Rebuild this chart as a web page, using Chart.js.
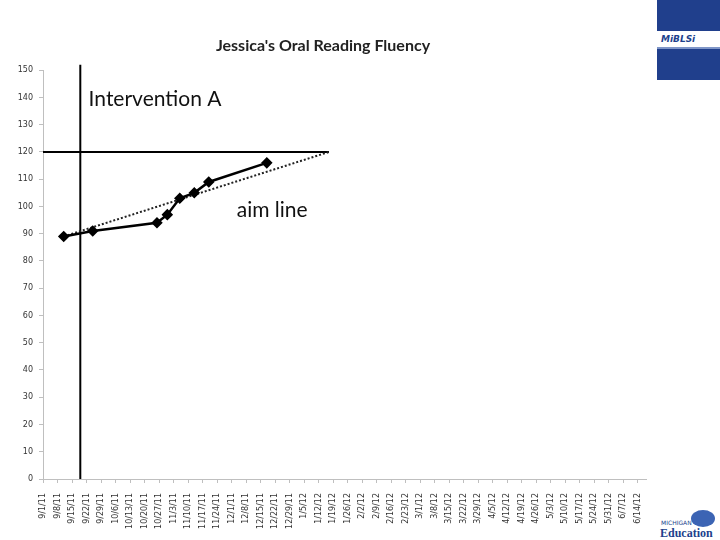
<!DOCTYPE html>
<html>
<head>
<meta charset="utf-8">
<script src="https://cdn.jsdelivr.net/npm/chart.js@4"></script>
<style>
  body { margin: 0; background: #fff; }
  #wrap { position: relative; width: 720px; height: 540px; overflow: hidden; }
  #chartBox { position: absolute; left: 0; top: 0; width: 660px; height: 540px; }
  .logo-top { position: absolute; left: 657px; top: 0; width: 63px; height: 80px; background: #203f8c; }
  .logo-band { position: absolute; left: 657px; top: 31px; width: 63px; height: 16px; background: #fff;
    font: italic bold 9px "DejaVu Sans"; color: #203f8c; line-height: 16px; padding-left: 4px; box-sizing: border-box; }
  .logo-edge { position: absolute; left: 657px; top: 47px; width: 63px; height: 2px; background: #7f96c8; }
  .mde { position: absolute; left: 660px; top: 510px; width: 60px; height: 30px; }
  .mde .mi { position: absolute; left: 1px; top: 9px; font: 6px "DejaVu Sans"; color: #203f8c; }
  .mde .ed { position: absolute; left: 0; top: 16px; font: bold 12px "Liberation Serif"; color: #203f8c; }
  .mde .seal { position: absolute; left: 31px; top: 0; width: 24px; height: 17px; border-radius: 50%; background: #3c64b4; }
</style>
</head>
<body>
<div id="wrap">
  <div id="chartBox"><canvas id="myChart" width="660" height="540"></canvas></div>
  <div class="logo-top"></div>
  <div class="logo-band">MiBLSi</div>
  <div class="logo-edge"></div>
  <div class="mde"><div class="seal"></div><div class="mi">MICHIGAN</div><div class="ed">Education</div></div>
</div>
<script>
// weekly axis labels, one every 7 days from 9/1/11
const dateLabels = ['9/1/11', '9/8/11', '9/15/11', '9/22/11', '9/29/11', '10/6/11', '10/13/11', '10/20/11',
  '10/27/11', '11/3/11', '11/10/11', '11/17/11', '11/24/11', '12/1/11', '12/8/11', '12/15/11', '12/22/11',
  '12/29/11', '1/5/12', '1/12/12', '1/19/12', '1/26/12', '2/2/12', '2/9/12', '2/16/12', '2/23/12', '3/1/12',
  '3/8/12', '3/15/12', '3/22/12', '3/29/12', '4/5/12', '4/12/12', '4/19/12', '4/26/12', '5/3/12', '5/10/12',
  '5/17/12', '5/24/12', '5/31/12', '6/7/12', '6/14/12'];

// days after 9/1/11 and words correct per minute
const pointDays = [10, 24, 55, 60, 66, 73, 80, 108];
const scores = [89, 91, 94, 97, 103, 105, 109, 116];

const aimDays = [10, 138];
const aimScores = [89, 120];

const goalDays = [0, 138];
const goalScores = [120, 120];

const interventionDays = [18, 18];
const interventionScores = [0, 152];

const axisMaxDay = 291;

function toPoints(xs, ys) {
  return xs.map((x, i) => ({ x: x, y: ys[i] }));
}

// text notes placed in data units
const notes = [
  { text: 'Intervention A', x: 22, y: 139.5 },
  { text: 'aim line', x: 93.5, y: 98.5 }
];

const notePlugin = {
  id: 'notes',
  afterDatasetsDraw(chart) {
    const c = chart.ctx;
    c.save();
    c.font = '21px Lato';
    c.fillStyle = '#111';
    c.textBaseline = 'middle';
    notes.forEach(n => {
      c.fillText(n.text, chart.scales.x.getPixelForValue(n.x), chart.scales.y.getPixelForValue(n.y));
    });
    c.restore();
  }
};

const ctx = document.getElementById('myChart').getContext('2d');
new Chart(ctx, {
  type: 'line',
  data: {
    datasets: [
      {
        data: toPoints(pointDays, scores),
        borderColor: '#000',
        backgroundColor: '#000',
        borderWidth: 2.5,
        pointStyle: 'rectRot',
        pointRadius: 4,
        tension: 0
      },
      {
        data: toPoints(aimDays, aimScores),
        borderColor: '#222',
        borderWidth: 2,
        borderDash: [2, 2],
        pointRadius: 0
      },
      {
        data: toPoints(goalDays, goalScores),
        borderColor: '#000',
        borderWidth: 2,
        pointRadius: 0
      },
      {
        data: toPoints(interventionDays, interventionScores),
        borderColor: '#000',
        borderWidth: 2,
        pointRadius: 0,
        clip: false
      }
    ]
  },
  options: {
    responsive: false,
    animation: false,
    layout: { padding: { right: 14 } },
    scales: {
      x: {
        type: 'linear',
        min: 0,
        max: axisMaxDay,
        afterBuildTicks: (scale) => {
          scale.ticks = dateLabels.map((_, i) => ({ value: i * 7 }));
        },
        afterFit: (scale) => { scale.height = 61; },
        ticks: {
          autoSkip: false,
          maxRotation: 90,
          minRotation: 90,
          padding: 10,
          font: { family: 'DejaVu Sans', size: 8 },
          color: '#333',
          callback: (value) => dateLabels[Math.round(value / 7)]
        },
        grid: { drawOnChartArea: false, tickLength: 4, color: '#bfbfbf' },
        border: { color: '#bfbfbf' }
      },
      y: {
        min: 0,
        max: 150,
        afterFit: (scale) => { scale.width = 43; },
        ticks: {
          stepSize: 10,
          padding: 6,
          font: { family: 'DejaVu Sans', size: 8 },
          color: '#333'
        },
        grid: { drawOnChartArea: false, tickLength: 4, color: '#bfbfbf' },
        border: { color: '#bfbfbf' }
      }
    },
    plugins: {
      legend: { display: false },
      tooltip: { enabled: false },
      title: {
        display: true,
        text: "Jessica's Oral Reading Fluency",
        font: { family: 'Lato', size: 16, weight: 'bold', lineHeight: 1.2 },
        color: '#222',
        padding: { top: 36, bottom: 15 }
      }
    }
  },
  plugins: [notePlugin]
});
</script>
</body>
</html>
